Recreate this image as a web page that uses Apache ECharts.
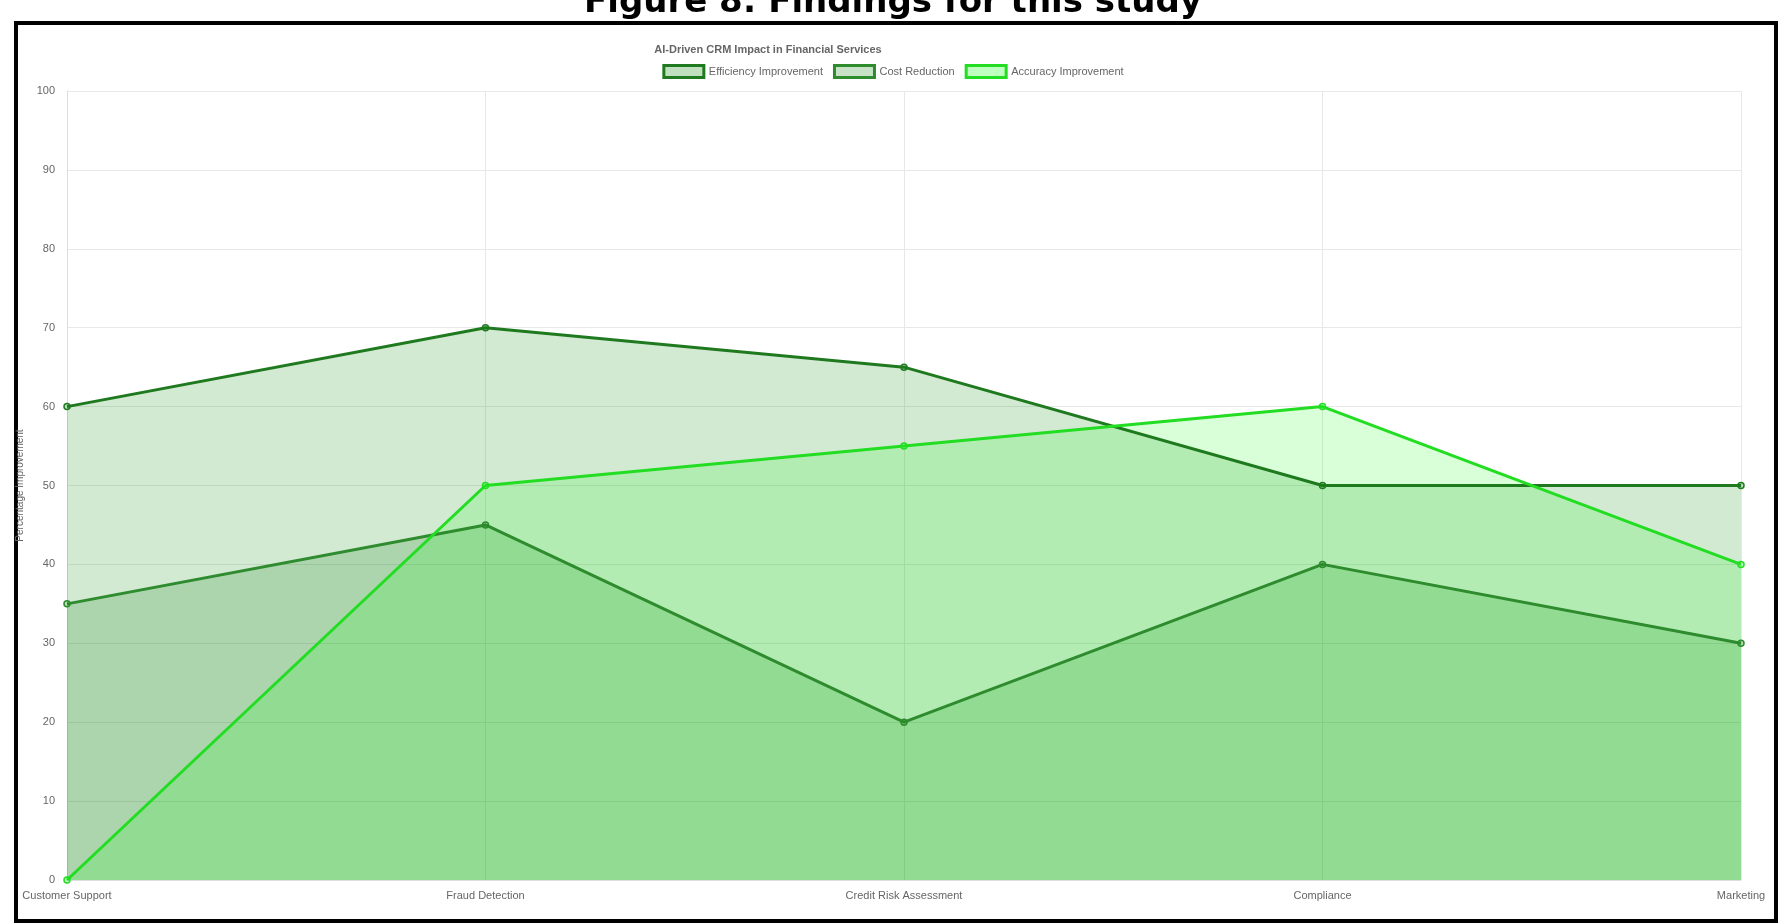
<!DOCTYPE html>
<html><head><meta charset="utf-8">
<script src="https://cdn.jsdelivr.net/npm/echarts@6/dist/echarts.min.js"></script>
<style>html,body{margin:0;padding:0;background:#fff}#c{width:1786px;height:924px}</style>
</head><body><div id="c"></div>
<script>
const categories = ['Customer Support','Fraud Detection','Credit Risk Assessment','Compliance','Marketing'];
const efficiency = [60,70,65,50,50];
const costReduction = [35,45,20,40,30];
const accuracy = [0,50,55,60,40];
const chart = echarts.init(document.getElementById('c'));
function s(name, data, line, fill){
  return {name, type:'line', data, symbol:'circle', symbolSize:6, showSymbol:true,
    lineStyle:{color:line,width:3}, itemStyle:{color:fill,borderColor:line,borderWidth:1.5},
    areaStyle:{color:fill,origin:'start'}, emphasis:{disabled:true}};
}
chart.setOption({
  animation:false,
  graphic:[
    {type:'text',left:'center',x:769,top:-14,style:{text:'Figure 8: Findings for this study',font:'bold 34px "DejaVu Sans"',fill:'#000'}},
    {type:'rect',shape:{x:16,y:23,width:1760,height:898},style:{fill:'none',stroke:'#000',lineWidth:4}}
  ],
  title:{text:'AI-Driven CRM Impact in Financial Services',left:763,textAlign:'center',top:39,
    textStyle:{fontSize:11,fontWeight:'bold',color:'#666',fontFamily:'Liberation Sans'}},
  legend:{top:59,left:'center',itemWidth:40,itemHeight:12,itemGap:10,
    textStyle:{fontSize:11,color:'#666',fontFamily:'Liberation Sans'},
    data:[
      {name:'Efficiency Improvement',icon:'rect',itemStyle:{color:'rgba(0,128,0,0.25)',borderColor:'#1f7a1f',borderWidth:3}},
      {name:'Cost Reduction',icon:'rect',itemStyle:{color:'rgba(34,139,34,0.25)',borderColor:'#2e8b2e',borderWidth:3}},
      {name:'Accuracy Improvement',icon:'rect',itemStyle:{color:'rgba(0,255,0,0.25)',borderColor:'#22dd22',borderWidth:3}}
    ]},
  grid:{left:67,right:45,top:91,bottom:44,containLabel:false},
  xAxis:{type:'category',data:categories,boundaryGap:false,
    axisLine:{lineStyle:{color:'#ddd'}},axisTick:{show:false},
    axisLabel:{color:'#666',fontSize:11,fontFamily:'Liberation Sans',margin:10},
    splitLine:{show:true,lineStyle:{color:'#e8e8e8'}}},
  yAxis:{type:'value',min:0,max:100,interval:10,name:'Percentage Improvement',nameLocation:'middle',nameGap:36,
    nameTextStyle:{color:'#666',fontSize:10,fontFamily:'Liberation Sans'},
    axisLine:{show:true,lineStyle:{color:'#ddd'}},axisTick:{show:false},
    axisLabel:{color:'#666',fontSize:11,fontFamily:'Liberation Sans',margin:12},
    splitLine:{lineStyle:{color:'#e8e8e8'}}},
  series:[
    s('Efficiency Improvement',efficiency,'#1f7a1f','rgba(0,128,0,0.25)'),
    s('Cost Reduction',costReduction,'#2e8b2e','rgba(34,139,34,0.3)'),
    s('Accuracy Improvement',accuracy,'#22dd22','rgba(0,255,0,0.22)')
  ]
});
</script></body></html>
